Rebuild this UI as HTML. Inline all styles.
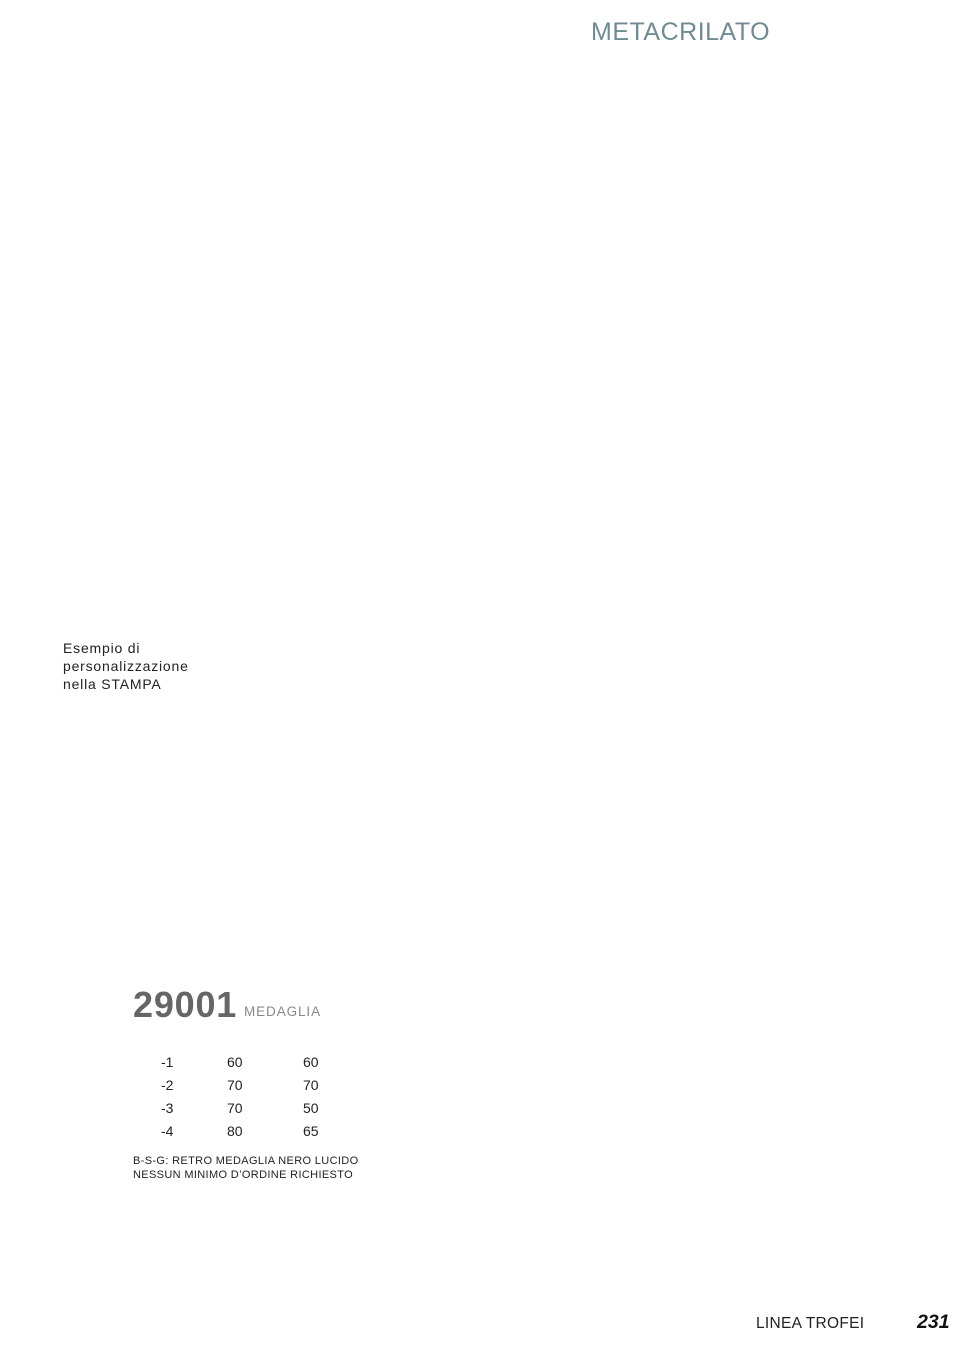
<!DOCTYPE html>
<html>
<head>
<meta charset="utf-8">
<style>
  html, body { margin:0; padding:0; background:#fff; }
  body { width:970px; height:1350px; position:relative; overflow:hidden;
         font-family:"Liberation Sans", Arial, sans-serif; }
  .t { position:absolute; white-space:nowrap; margin:0; }
</style>
</head>
<body>
  <div class="t" style="left:591px; top:20px; font-size:25px; line-height:25px; color:#6f8b93; letter-spacing:0.5px;">METACRILATO</div>

  <div class="t" style="left:63px; top:639px; font-size:14px; line-height:18px; color:#222; letter-spacing:0.8px;">Esempio di<br>personalizzazione<br>nella STAMPA</div>

  <div class="t" style="left:133px; top:987px; font-size:36px; line-height:36px; font-weight:bold; color:#666; letter-spacing:0.8px;">29001</div>
  <div class="t" style="left:244px; top:1005px; font-size:13.5px; line-height:13.5px; color:#888; letter-spacing:0.9px;">MEDAGLIA</div>

  <div class="t" style="left:161px; top:1055px; font-size:14px; line-height:14px; color:#222;">-1</div>
  <div class="t" style="left:227px; top:1055px; font-size:14px; line-height:14px; color:#222;">60</div>
  <div class="t" style="left:303px; top:1055px; font-size:14px; line-height:14px; color:#222;">60</div>

  <div class="t" style="left:161px; top:1078px; font-size:14px; line-height:14px; color:#222;">-2</div>
  <div class="t" style="left:227px; top:1078px; font-size:14px; line-height:14px; color:#222;">70</div>
  <div class="t" style="left:303px; top:1078px; font-size:14px; line-height:14px; color:#222;">70</div>

  <div class="t" style="left:161px; top:1101px; font-size:14px; line-height:14px; color:#222;">-3</div>
  <div class="t" style="left:227px; top:1101px; font-size:14px; line-height:14px; color:#222;">70</div>
  <div class="t" style="left:303px; top:1101px; font-size:14px; line-height:14px; color:#222;">50</div>

  <div class="t" style="left:161px; top:1124px; font-size:14px; line-height:14px; color:#222;">-4</div>
  <div class="t" style="left:227px; top:1124px; font-size:14px; line-height:14px; color:#222;">80</div>
  <div class="t" style="left:303px; top:1124px; font-size:14px; line-height:14px; color:#222;">65</div>

  <div class="t" style="left:133px; top:1154px; font-size:11px; line-height:14px; color:#222; letter-spacing:0.35px;">B-S-G: RETRO MEDAGLIA NERO LUCIDO<br>NESSUN MINIMO D’ORDINE RICHIESTO</div>

  <div class="t" style="left:756px; top:1316px; font-size:15.5px; line-height:15.5px; color:#222; letter-spacing:0.3px;">LINEA TROFEI</div>
  <div class="t" style="left:917px; top:1313px; font-size:19.5px; line-height:19.5px; color:#111; font-weight:bold; font-style:italic;">231</div>
</body>
</html>
